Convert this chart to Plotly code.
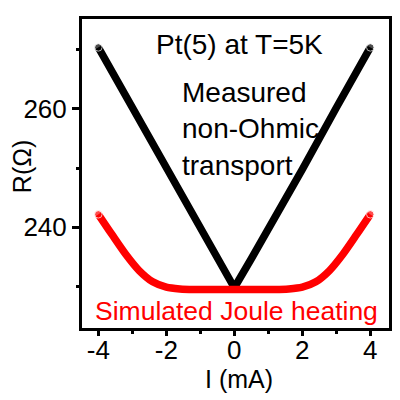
import plotly.graph_objects as go

# measured non-Ohmic transport, Pt(5) at T=5K
current_measured = [-4, -3, -2, -1, -0.5, 0, 0.5, 1, 2, 3, 4]
resistance_measured = [270.4, 260.2, 249.8, 239.6, 234.7, 229.8, 234.7, 239.6, 249.8, 260.2, 270.4]

# simulated Joule heating
current_simulated = [-4, -3.6, -3.2, -2.8, -2.4, -2.0, -1.6, -1.2, -0.6, 0,
                     0.6, 1.2, 1.6, 2.0, 2.4, 2.8, 3.2, 3.6, 4]
resistance_simulated = [242.2, 238.8, 235.5, 232.7, 230.8, 229.9, 229.6, 229.5, 229.5, 229.5,
                        229.5, 229.5, 229.6, 229.9, 230.8, 232.7, 235.5, 238.8, 242.2]

x_ticks = [-4, -2, 0, 2, 4]
y_ticks = [240, 260]

FONT = "Liberation Sans, Arial, sans-serif"
LW = 7.5


def end_caps(n):
    # round line ends, drawn as markers on the first and last points
    return [LW] + [0] * (n - 2) + [LW]


fig = go.Figure()

fig.add_trace(go.Scatter(
    x=current_measured, y=resistance_measured,
    mode="lines+markers",
    line=dict(color="black", width=LW),
    marker=dict(color="black", size=end_caps(len(current_measured))),
    showlegend=False, hoverinfo="skip"
))

fig.add_trace(go.Scatter(
    x=current_simulated, y=resistance_simulated,
    mode="lines+markers",
    line=dict(color="#ff0000", width=LW, shape="spline", smoothing=0.8),
    marker=dict(color="#ff0000", size=end_caps(len(current_simulated))),
    showlegend=False, hoverinfo="skip"
))

axis_common = dict(
    showline=True, linecolor="black", linewidth=3, mirror=True,
    showgrid=False, zeroline=False,
    ticks="outside", tickcolor="black", tickwidth=2.5,
    tickfont=dict(family=FONT, size=26, color="black"),
)

fig.update_xaxes(
    range=[-4.48, 4.55], tickvals=x_ticks, ticktext=[str(v) for v in x_ticks], ticklen=5,
    ticklabelstandoff=-8,
    minor=dict(ticks="outside", dtick=1, tick0=0, ticklen=2.5, tickwidth=2.5, tickcolor="black"),
    **axis_common
)
fig.update_yaxes(
    range=[223.0, 275.2], tickvals=y_ticks, ticklen=7,
    minor=dict(ticks="outside", dtick=10, tick0=0, ticklen=3.5, tickwidth=2.5, tickcolor="black"),
    **axis_common
)

fig.add_annotation(text="Pt(5) at T=5K", x=0.14, y=270.9, xref="x", yref="y",
                   showarrow=False, xanchor="center", yanchor="middle",
                   font=dict(family=FONT, size=28, color="black"))
fig.add_annotation(text="Measured<br>non-Ohmic<br>transport", x=-1.61, y=256.7, xref="x", yref="y",
                   showarrow=False, xanchor="left", yanchor="middle", align="left",
                   font=dict(family=FONT, size=28, color="black"))
fig.add_annotation(text="Simulated Joule heating", x=0.07, y=225.9, xref="x", yref="y",
                   showarrow=False, xanchor="center", yanchor="middle",
                   font=dict(family=FONT, size=26.5, color="#ff0000"))
fig.add_annotation(text="R(Ω)", x=-0.193, y=0.523, xref="paper", yref="paper",
                   showarrow=False, xanchor="center", yanchor="middle", textangle=-90,
                   font=dict(family=FONT, size=25, color="black"))
fig.add_annotation(text="I (mA)", x=0.512, y=-0.1655, xref="paper", yref="paper",
                   showarrow=False, xanchor="center", yanchor="middle",
                   font=dict(family=FONT, size=25, color="black"))

# the page adds an 8px body margin, so the figure is 392px and margins are shifted by 8
fig.update_layout(
    width=392, height=392,
    margin=dict(l=73.7, r=9, t=8, b=71.7),
    paper_bgcolor="white", plot_bgcolor="white",
)

fig.write_html("out.html")
